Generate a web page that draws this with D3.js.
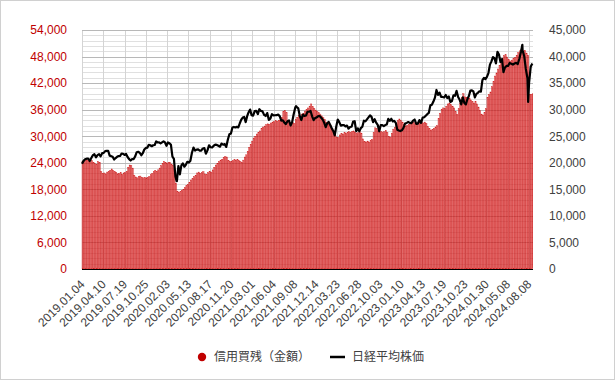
<!DOCTYPE html>
<html>
<head>
<meta charset="utf-8">
<script src="https://cdn.jsdelivr.net/npm/d3@7"></script>
<style>
    body { margin: 0; background: #fff; }
    #chart-area { width: 615px; height: 380px; }
    .axis text { font-family: "Liberation Sans", Arial, sans-serif; font-size: 12px; }
    .legend text { font-family: "Noto Sans CJK JP", sans-serif; font-size: 12px; fill: #404040; }
</style>
</head>
<body>
<div id="chart-area"></div>
<script>

// weekly data, one value per Friday from 2019.01.04 to 2024.08.23
const firstWeek = "2019.01.04";
const lastWeek = "2024.08.23";
const axisEnd = "2024.08.26";

// 信用買残（金額） 億円
const marginBuy = [
    24300, 24500, 24700, 24600, 24400, 24200, 24500, 24100, 23800, 23600, 24300, 24100, 22000, 21600,
    21700, 21500, 21900, 22100, 22300, 22600, 22200, 22000, 21800, 21500, 21600, 21800, 21400, 21700,
    21800, 22000, 23000, 23500, 23400, 22800, 21200, 20800, 20600, 20900, 21000, 20700, 20600, 20700,
    20600, 20700, 20900, 21300, 21600, 22000, 22300, 22100, 22400, 22800, 23400, 23900, 24300, 24100, 23900,
    24000, 24100, 23700, 23400, 22600, 19400, 17600, 17300, 17500, 17800, 18000, 18400, 18800, 19100,
    19600, 20100, 20400, 20900, 21200, 21700, 21900, 21600, 21800, 22000, 21500, 21300, 21800, 22100,
    21900, 22400, 23000, 23500, 23900, 24300, 24600, 24800, 25200, 25400, 25300, 24500, 24300,
    24300, 24500, 24700, 24600, 24800, 24500, 24300, 24100, 24600, 25300, 25800, 26600, 27500, 28200, 28900,
    29600, 30000, 30500, 30900, 31200, 31800, 32100, 32300, 32600, 32800, 32700, 33000, 33200,
    33300, 33500, 33400, 33600, 33500, 34200, 35600, 35800, 35300, 33400, 33000, 32800, 33100, 32900,
    33800, 34300, 34700, 34500, 35000, 35200, 35700, 36000, 36400, 36800, 37300, 36700, 36300, 35900,
    35600, 35300, 35000, 34600, 34200, 33800, 33200, 32900, 32700, 32400, 31800, 31200, 30200, 29800,
    29700, 30300, 30600, 30500, 30800, 30700, 30900, 31000, 30800, 31100, 31200, 30900, 30600, 30800,
    31000, 30700, 29400, 28800, 28700, 28900, 28700, 29000, 29300, 30800, 31900, 31700, 31200, 30900,
    31100, 30800, 31000, 31300, 30900, 30000, 29800, 30700, 31600, 32000, 32800, 33500, 33900, 33600,
    33200, 32600, 32300, 32500, 32700, 32900, 33000, 33100, 32800, 33000, 33200, 33300, 33100,
    33000, 33200, 32900, 32200, 31700, 31400, 31500, 31800, 32100, 32400, 34000, 35200, 36100, 36400,
    36300, 36800, 37300, 37500, 37100, 36800, 36400, 35600, 34900, 36200, 37400, 38700, 39600, 38900,
    38800, 38400, 38600, 38200, 37800, 37500, 37900, 37300, 36600, 35800, 35000, 34800, 35400, 36200,
    38800, 39400, 40000, 41200, 42400, 43600, 44300, 45200, 46000, 46700, 47500, 48200, 48400, 47900,
    47300, 47000, 47200, 47500, 47800, 48300, 48900, 49300, 49600, 49100, 49400, 48800, 48300,
    39400, 39500, 39600
];

// 日経平均株価 (weekly close)
const nikkei = [
    // 2019
    19800, 20359, 20666, 20774, 20788, 20333, 20901, 21426, 21602, 21025, 21451, 21627, 21206,
    21807, 21871, 22200, 22259, 22259, 21345, 21250, 21117, 20601, 20885, 21117, 21259, 21276,
    21746, 21686, 21467, 21658, 21088, 20685, 20419, 20711, 20704, 21200, 21988, 22079, 21879,
    21410, 21799, 22493, 22800, 22851, 23392, 23303, 23113, 23294, 23354, 24023, 23817, 23838,
    // 2020
    23657, 23851, 24041, 23827, 23205, 23828, 23688, 23387, 21143, 20750, 17431, 16553, 19389,
    17820, 19499, 19897, 19262, 19620, 20179, 20037, 20388, 21878, 22864, 22305, 22479, 22512,
    22306, 22291, 22696, 22751, 21710, 22330, 23289, 22920, 22882, 23205, 23406, 23360, 23205,
    23030, 23620, 23411, 23517, 22977, 24325, 25385, 25527, 26645, 26751, 26652, 26763, 26657,
    // 2021
    27444, 28139, 28519, 28631, 27663, 28779, 29520, 30018, 28966, 28864, 29718, 29792, 29177,
    30089, 29768, 29683, 29021, 28813, 29358, 28084, 28318, 29149, 28942, 28949, 28964, 29066,
    28783, 27940, 28003, 27548, 27284, 27820, 27977, 27013, 27641, 29128, 30382, 30500, 30249,
    28771, 28049, 29069, 28805, 28893, 29612, 29610, 29746, 28752, 28030, 28438, 28546, 28782, 28792,
    // 2022
    28479, 28124, 27522, 26717, 27440, 27696, 27122, 26477, 25985, 25163, 26827, 28150,
    27666, 26986, 27093, 27105, 26848, 27004, 26428, 26739, 26782, 27762, 27824, 25963, 26491,
    25936, 26517, 26788, 27915, 27802, 28176, 28547, 28930, 28641, 27651, 28215, 27568, 27154, 25937,
    27116, 27091, 26891, 27105, 27199, 28264, 27900, 28283, 27778, 27901, 27527, 26235, 26095,
    // 2023
    25974, 26120, 26554, 27383, 27510, 27671, 27514, 27454, 27927, 28144, 27334, 27385, 28041,
    27518, 28493, 28564, 28856, 29158, 29388, 30808, 30916, 31524, 32265, 33706, 32781, 33189,
    32388, 32391, 32304, 32759, 32193, 32474, 31451, 31625, 32711, 32607, 33533, 32402, 31858,
    30995, 32316, 31259, 30992, 31950, 32568, 33585, 33626, 33432, 32308, 32971, 33170, 33464,
    // 2024
    33377, 35577, 35963, 35751, 36158, 36897, 38487, 39099, 39911, 39689, 38708, 40888, 40369,
    38992, 39524, 37068, 37935, 38236, 38229, 38787, 38646, 38488, 38684, 38815, 38596, 39583,
    40913, 41191, 40064, 37667, 35910, 35025, 38063, 38700
];

// daily extremes that the weekly closes miss
const nikkeiExtraDates = ["2020.03.19", "2021.09.14", "2024.07.11", "2024.08.05"];
const nikkeiExtra = [16552, 30670, 42224, 31458];

const tickLabels = [
    "2019.01.04", "2019.04.10", "2019.07.19", "2019.10.25", "2020.02.03", "2020.05.13",
    "2020.08.17", "2020.11.20", "2021.03.01", "2021.06.04", "2021.09.08", "2021.12.14",
    "2022.03.23", "2022.06.28", "2022.10.03", "2023.01.10", "2023.04.13", "2023.07.19",
    "2023.10.23", "2024.01.30", "2024.05.08", "2024.08.08"
];

const leftTicks = [0, 6000, 12000, 18000, 24000, 30000, 36000, 42000, 48000, 54000];
const rightTicks = [0, 5000, 10000, 15000, 20000, 25000, 30000, 35000, 40000, 45000];
const minorTicks = [
    1200, 2400, 3600, 4800, 7200, 8400, 9600, 10800, 13200, 14400, 15600, 16800,
    19200, 20400, 21600, 22800, 25200, 26400, 27600, 28800, 31200, 32400, 33600, 34800,
    37200, 38400, 39600, 40800, 43200, 44400, 45600, 46800, 49200, 50400, 51600, 52800
];


class MarginChart {

    constructor(parentElement) {
        this.parentElement = parentElement;
        this.initVis();
    }

    initVis() {
        let vis = this;
        let parse = d3.timeParse("%Y.%m.%d");

        vis.margin = {top: 30, right: 82, bottom: 111, left: 82};
        vis.width = 615 - vis.margin.left - vis.margin.right;
        vis.height = 380 - vis.margin.top - vis.margin.bottom;

        vis.root = d3.select("#" + vis.parentElement).append("svg")
            .attr("width", 615)
            .attr("height", 380);

        // outer frame
        vis.root.append("rect")
            .attr("x", 0.5).attr("y", 0.5)
            .attr("width", 614).attr("height", 379)
            .attr("fill", "#fff")
            .attr("stroke", "#d0d0d0");

        vis.svg = vis.root.append("g")
            .attr("transform", `translate(${vis.margin.left}, ${vis.margin.top})`);

        // data
        vis.weeks = d3.timeFriday.range(parse(firstWeek), d3.timeDay.offset(parse(lastWeek), 1));
        vis.bars = vis.weeks.map((d, i) => ({date: d, value: marginBuy[i]}));
        vis.line = vis.weeks.map((d, i) => ({date: d, value: nikkei[i]}))
            .concat(nikkeiExtraDates.map((d, i) => ({date: parse(d), value: nikkeiExtra[i]})))
            .sort((a, b) => a.date - b.date);

        // category-like x axis: tick labels evenly spaced
        vis.labelDates = tickLabels.map(parse);
        let n = vis.labelDates.length;
        let last = vis.labelDates[n - 1], prev = vis.labelDates[n - 2];
        vis.endDate = parse(axisEnd);
        vis.step = vis.width / (n - 1 + (vis.endDate - last) / (last - prev));

        vis.x = d3.scaleTime()
            .domain(vis.labelDates)
            .range(vis.labelDates.map((d, i) => i * vis.step));

        vis.yLeft = d3.scaleLinear().domain([0, 54000]).range([vis.height, 0]);
        vis.yRight = d3.scaleLinear().domain([0, 45000]).range([vis.height, 0]);

        // grid
        vis.svg.selectAll(".minor-grid")
            .data(minorTicks)
            .enter().append("line")
            .attr("class", "minor-grid")
            .attr("x1", 0).attr("x2", vis.width)
            .attr("y1", d => Math.round(vis.yLeft(d)) + 0.5)
            .attr("y2", d => Math.round(vis.yLeft(d)) + 0.5)
            .style("stroke", "#e0e0e0");

        vis.svg.selectAll(".v-grid")
            .data(vis.labelDates)
            .enter().append("line")
            .attr("class", "v-grid")
            .attr("x1", d => Math.round(vis.x(d)) + 0.5)
            .attr("x2", d => Math.round(vis.x(d)) + 0.5)
            .attr("y1", 0).attr("y2", vis.height)
            .style("stroke", "#d4d4d4");

        vis.svg.selectAll(".major-grid")
            .data(leftTicks)
            .enter().append("line")
            .attr("class", "major-grid")
            .attr("x1", 0).attr("x2", vis.width)
            .attr("y1", d => Math.round(vis.yLeft(d)) + 0.5)
            .attr("y2", d => Math.round(vis.yLeft(d)) + 0.5)
            .style("stroke", "#b8b8b8");

        // bars (semi-transparent so the grid shows through, like the original)
        vis.svg.selectAll(".bar")
            .data(vis.bars)
            .enter().append("rect")
            .attr("class", "bar")
            .attr("x", d => vis.x(d.date))
            .attr("y", d => vis.yLeft(d.value))
            .attr("width", d => Math.max(0.5, Math.min(vis.x(d3.timeDay.offset(d.date, 7)), vis.width) - vis.x(d.date) - 0.3))
            .attr("height", d => vis.height - vis.yLeft(d.value))
            .style("fill", "#d93030")
            .style("fill-opacity", 0.68)
            .style("stroke", "#c80000")
            .style("stroke-opacity", 0.8)
            .style("stroke-width", 0.4);

        // nikkei line
        vis.lineGen = d3.line()
            .x(d => vis.x(d.date))
            .y(d => vis.yRight(d.value));

        vis.svg.append("path")
            .datum(vis.line)
            .attr("d", vis.lineGen)
            .style("fill", "none")
            .style("stroke", "#000")
            .style("stroke-width", 2.2)
            .style("stroke-linejoin", "round");

        // axes
        let xAxis = d3.axisBottom(vis.x)
            .tickValues(vis.labelDates)
            .tickFormat(d3.timeFormat("%Y.%m.%d"))
            .tickSize(0);

        vis.svg.append("g")
            .attr("class", "axis x-axis")
            .attr("transform", `translate(0, ${vis.height})`)
            .call(xAxis)
            .call(g => g.select(".domain").remove())
            .selectAll("text")
            .style("fill", "#404040")
            .attr("text-anchor", "end")
            .attr("x", 0).attr("y", 0).attr("dy", 0)
            .attr("transform", "translate(3, 16) rotate(-45)");

        vis.svg.append("line")
            .attr("x1", 0).attr("x2", vis.width)
            .attr("y1", vis.height + 0.5).attr("y2", vis.height + 0.5)
            .style("stroke", "#000")
            .style("stroke-width", 1.2);

        let leftAxis = d3.axisLeft(vis.yLeft)
            .tickValues(leftTicks)
            .tickFormat(d3.format(","))
            .tickSize(0)
            .tickPadding(15);

        vis.svg.append("g")
            .attr("class", "axis y-left")
            .call(leftAxis)
            .call(g => g.select(".domain").remove())
            .selectAll("text")
            .style("fill", "#c00000");

        let rightAxis = d3.axisRight(vis.yRight)
            .tickValues(rightTicks)
            .tickFormat(d3.format(","))
            .tickSize(0)
            .tickPadding(16);

        vis.svg.append("g")
            .attr("class", "axis y-right")
            .attr("transform", `translate(${vis.width}, 0)`)
            .call(rightAxis)
            .call(g => g.select(".domain").remove())
            .selectAll("text")
            .style("fill", "#404040");

        vis.root.selectAll(".axis").attr("font-size", null).attr("font-family", null);

        // legend
        let legend = vis.root.append("g").attr("class", "legend");

        legend.append("circle")
            .attr("cx", 202).attr("cy", 357).attr("r", 4.2)
            .style("fill", "#c00000");
        legend.append("text")
            .attr("x", 214).attr("y", 357)
            .attr("dy", "0.35em")
            .text("信用買残（金額）");

        legend.append("line")
            .attr("x1", 330).attr("x2", 345)
            .attr("y1", 357).attr("y2", 357)
            .style("stroke", "#000")
            .style("stroke-width", 2.5);
        legend.append("text")
            .attr("x", 352).attr("y", 357)
            .attr("dy", "0.35em")
            .text("日経平均株価");
    }
}

new MarginChart("chart-area");

</script>
</body>
</html>
